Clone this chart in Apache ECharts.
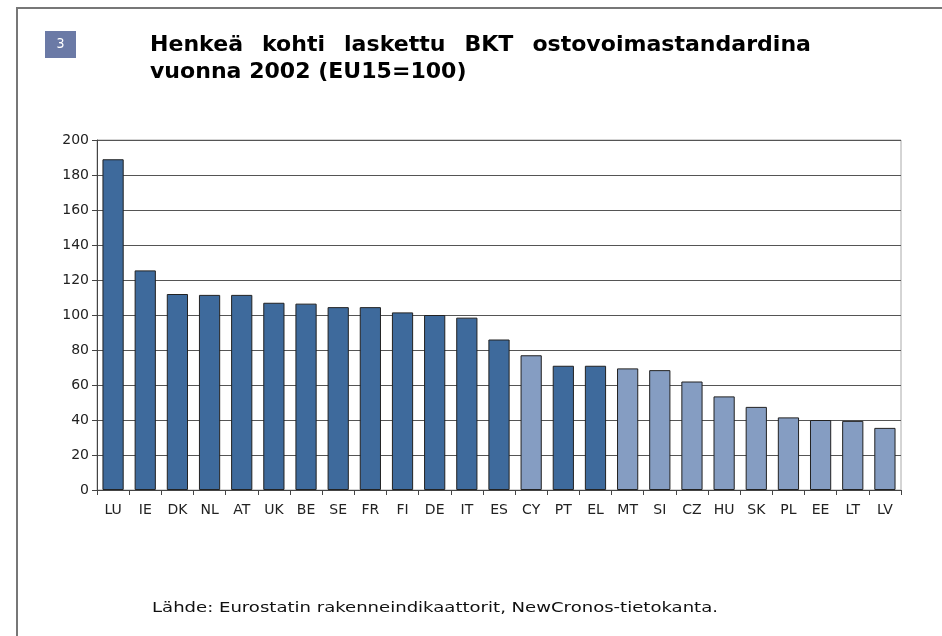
<!DOCTYPE html>
<html><head><meta charset="utf-8">
<script src="https://cdn.jsdelivr.net/npm/echarts@6/dist/echarts.min.js"></script>
<style>html,body{margin:0;padding:0;background:#fff}#c{width:942px;height:636px}</style>
</head><body><div id="c"></div>
<script>
const categories = ['LU','IE','DK','NL','AT','UK','BE','SE','FR','FI','DE','IT','ES','CY','PT','EL','MT','SI','CZ','HU','SK','PL','EE','LT','LV'];
const values = [189,125.5,112,111.5,111.5,107,106.5,104.5,104.5,101.5,100,98.5,86,77,71,71,69.5,68.5,62,53.5,47.5,41.5,40,39.5,35.5];
const isEU15 = [1,1,1,1,1,1,1,1,1,1,1,1,1,0,1,1,0,0,0,0,0,0,0,0,0];
const yTicks = [0,20,40,60,80,100,120,140,160,180,200];
const titleLine1Words = ['Henkeä','kohti','laskettu','BKT','ostovoimastandardina'];
const titleLine2 = 'vuonna 2002 (EU15=100)';
const sourceText = 'Lähde: Eurostatin rakenneindikaattorit, NewCronos-tietokanta.';

const chart = echarts.init(document.getElementById('c'));
const DARK = '#3e6a9c', LIGHT = '#859dc2';
const titleFont = 'bold 21px "DejaVu Sans", Verdana, sans-serif';
const TSX = 1.05;
const graphics = [
  {type:'rect', shape:{x:17,y:8,width:940,height:640}, style:{fill:'none',stroke:'#777',lineWidth:2}, silent:true},
  {type:'rect', shape:{x:45,y:31,width:31,height:27}, style:{fill:'#6b7aa6'}},
  {type:'text', x:60.5, y:44.5, style:{text:'3', fill:'#fff', font:'14px "DejaVu Sans Condensed", "DejaVu Sans", sans-serif', align:'center', verticalAlign:'middle'}},
  {type:'text', x:150, y:73, scaleX:TSX, style:{text:titleLine2, fill:'#000', font:titleFont, verticalAlign:'middle'}},
  {type:'text', x:152, y:608, scaleX:1.29, style:{text:sourceText, fill:'#111', font:'14px "DejaVu Sans", Verdana, sans-serif', verticalAlign:'middle'}}
];
// justify first title line between x=150 and x=811
(function(){
  const ctx = document.createElement('canvas').getContext('2d');
  ctx.font = titleFont;
  const widths = titleLine1Words.map(w=>ctx.measureText(w).width*TSX);
  const total = widths.reduce((a,b)=>a+b,0);
  const gap = (811-150-total)/(titleLine1Words.length-1);
  let x = 150;
  titleLine1Words.forEach((w,i)=>{
    graphics.push({type:'text', x:x, y:46, scaleX:TSX, style:{text:w, fill:'#000', font:titleFont, verticalAlign:'middle'}});
    x += widths[i]+gap;
  });
})();

chart.setOption({
  animation:false,
  grid:{left:97,right:41,top:140,bottom:146,show:true,borderColor:'#aaa',borderWidth:1},
  xAxis:{type:'category', data:categories,
    axisLine:{lineStyle:{color:'#444',width:1}},
    axisTick:{show:true,length:5,lineStyle:{color:'#444'}},
    axisLabel:{color:'#222',fontSize:14,fontFamily:'"DejaVu Sans", sans-serif',margin:13}},
  yAxis:{type:'value', min:0, max:200, interval:20,
    axisLine:{show:true,lineStyle:{color:'#444'}},
    axisTick:{show:true,length:5,lineStyle:{color:'#444'}},
    axisLabel:{color:'#222',fontSize:14,fontFamily:'"DejaVu Sans", sans-serif',margin:8,
      formatter:v=>yTicks.includes(v)?String(v):''},
    splitLine:{lineStyle:{color:'#555',width:1}}},
  series:[{type:'bar', barCategoryGap:'34%',
    data: values.map((v,i)=>({value:v, itemStyle:{color: isEU15[i]?DARK:LIGHT}})),
    itemStyle:{borderColor:'#222',borderWidth:1}}],
  graphic: graphics
});
</script></body></html>
